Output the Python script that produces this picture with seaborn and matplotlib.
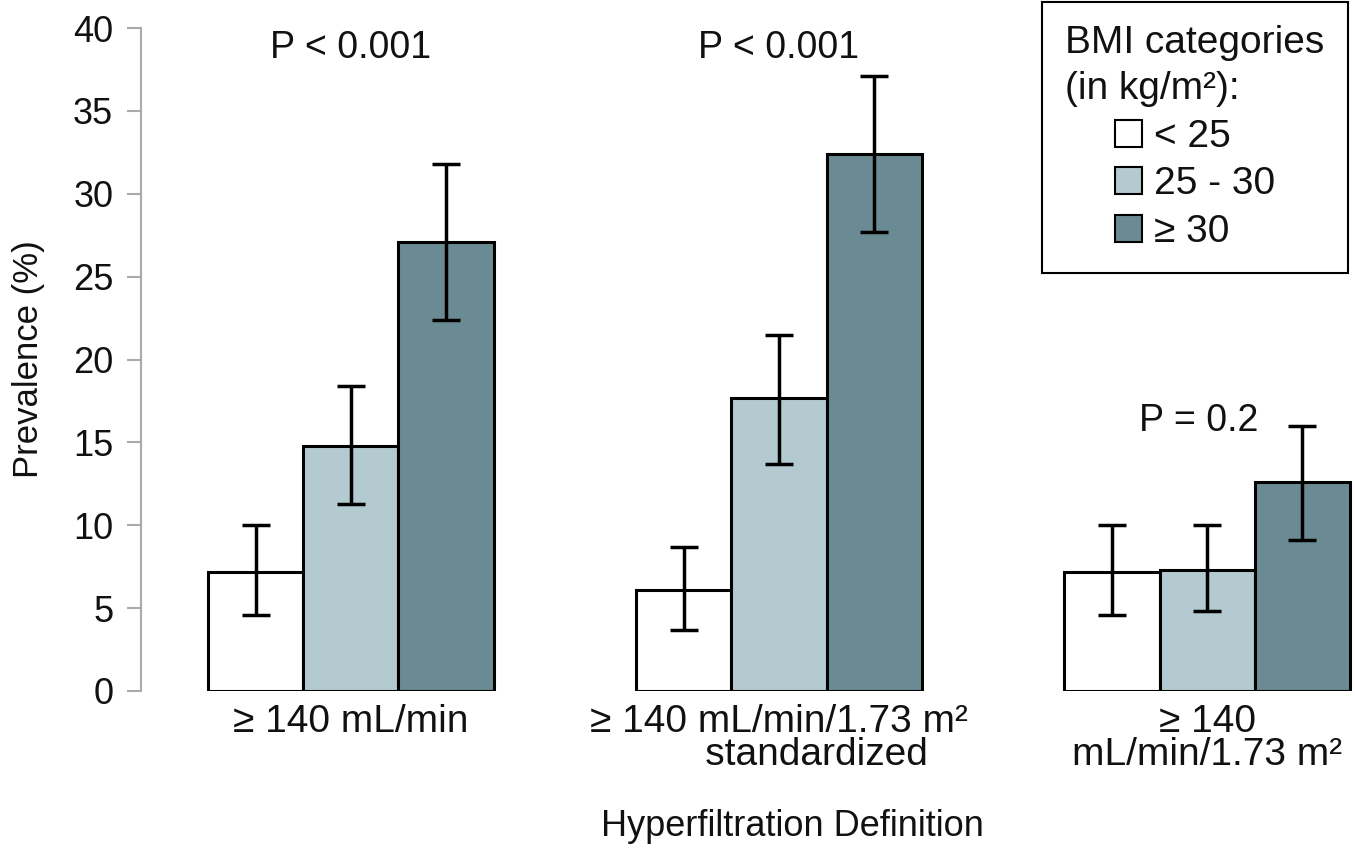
import numpy as np
import pandas as pd
import matplotlib
matplotlib.use("Agg")
import matplotlib.pyplot as plt
from matplotlib.patches import Patch
import seaborn as sns

# Hyperfiltration definitions (x groups) and BMI categories (hue)
definitions = ["≥ 140 mL/min",
               "≥ 140 mL/min/1.73 m²\n       standardized",
               "≥ 140\nmL/min/1.73 m²"]
bmi_levels = ["< 25", "25 - 30", "≥ 30"]

# Prevalence (%) per definition, one list per BMI category
prev_lt25 = [7.2, 6.1, 7.2]
prev_25_30 = [14.8, 17.7, 7.3]
prev_ge30 = [27.1, 32.4, 12.6]

# 95% confidence limits
lower_lt25 = [4.6, 3.7, 4.6]
upper_lt25 = [10.0, 8.7, 10.0]
lower_25_30 = [11.3, 13.7, 4.8]
upper_25_30 = [18.4, 21.5, 10.0]
lower_ge30 = [22.4, 27.7, 9.1]
upper_ge30 = [31.8, 37.1, 16.0]

p_values = ["P < 0.001", "P < 0.001", "P = 0.2"]
p_label_y = [38.8, 38.8, 16.3]

y_ticks = [0, 5, 10, 15, 20, 25, 30, 35, 40]

colors = ["#ffffff", "#b2cad0", "#6a8b93"]

prevalence = [prev_lt25, prev_25_30, prev_ge30]
lowers = [lower_lt25, lower_25_30, lower_ge30]
uppers = [upper_lt25, upper_25_30, upper_ge30]

df = pd.DataFrame({
    "definition": [d for _ in bmi_levels for d in definitions],
    "bmi": [b for b in bmi_levels for _ in definitions],
    "prevalence": [v for series in prevalence for v in series],
})

sns.set_style("white")
plt.rcParams["font.family"] = ["Liberation Sans", "DejaVu Sans"]

TXT = "#111111"

fig = plt.figure(figsize=(13.55, 8.5), dpi=100)
ax = fig.add_axes([141 / 1355, 159 / 850, (1355 - 141) / 1355, 663 / 850])

sns.barplot(data=df, x="definition", y="prevalence", hue="bmi",
            order=definitions, hue_order=bmi_levels, palette=colors,
            width=0.667, edgecolor="black", linewidth=2.2, errorbar=None,
            saturation=1, legend=False, ax=ax)

# Confidence interval whiskers at the centre of each bar
for container, lo, hi, vals in zip(ax.containers, lowers, uppers, prevalence):
    for bar, l, h, v in zip(container, lo, hi, vals):
        xc = bar.get_x() + bar.get_width() / 2
        ax.errorbar(xc, v, yerr=[[v - l], [h - v]], fmt="none",
                    ecolor="black", elinewidth=2.5, capsize=10,
                    capthick=2.5, zorder=5, clip_on=False)

for i, (txt, yy) in enumerate(zip(p_values, p_label_y)):
    xi = i - 0.02 if i == 2 else i
    ax.text(xi, yy, txt, ha="center", va="center", fontsize=27, color=TXT)

ax.set_ylim(0, 40)
ax.set_xlim(-0.49, 2.345)
ax.set_yticks(y_ticks)
ax.set_yticklabels([str(t) for t in y_ticks], fontsize=26, color=TXT)

for side in ["top", "right", "bottom"]:
    ax.spines[side].set_visible(False)
ax.spines["left"].set_color("#aaaaaa")
ax.spines["left"].set_linewidth(1.5)
ax.spines["left"].set_bounds(0, 40)
ax.tick_params(axis="y", direction="out", length=10, width=1.5,
               color="#aaaaaa", pad=10, left=True)
ax.tick_params(axis="x", length=0, pad=9, labelsize=28, labelcolor=TXT)
for lab in ax.get_xticklabels():
    lab.set_linespacing(0.92)

ax.set_xlabel("")
ax.set_ylabel("Prevalence (%)", fontsize=25, color=TXT, labelpad=20)
fig.text(792 / 1355, 1 - 826 / 850, "Hyperfiltration Definition",
         ha="center", va="center", fontsize=26, color=TXT)

handles = [Patch(facecolor=c, edgecolor="black", linewidth=1.5) for c in colors]
leg = fig.legend(handles, bmi_levels, title="BMI categories\n(in kg/m²):",
                 loc="upper right", bbox_to_anchor=(1348 / 1355, 1 - 2 / 850),
                 fontsize=28, title_fontsize=28, frameon=True, fancybox=False,
                 framealpha=1, edgecolor="black", borderaxespad=0,
                 handlelength=0.7, handleheight=0.7, handletextpad=0.3,
                 labelspacing=0.3, borderpad=0.6)
leg.get_frame().set_linewidth(1.5)
leg.get_title().set_multialignment("left")
leg.get_title().set_linespacing(1.35)
for t in leg.get_texts():
    t.set_color(TXT)
leg.get_title().set_color(TXT)

fig.savefig("out.png", dpi=100)
